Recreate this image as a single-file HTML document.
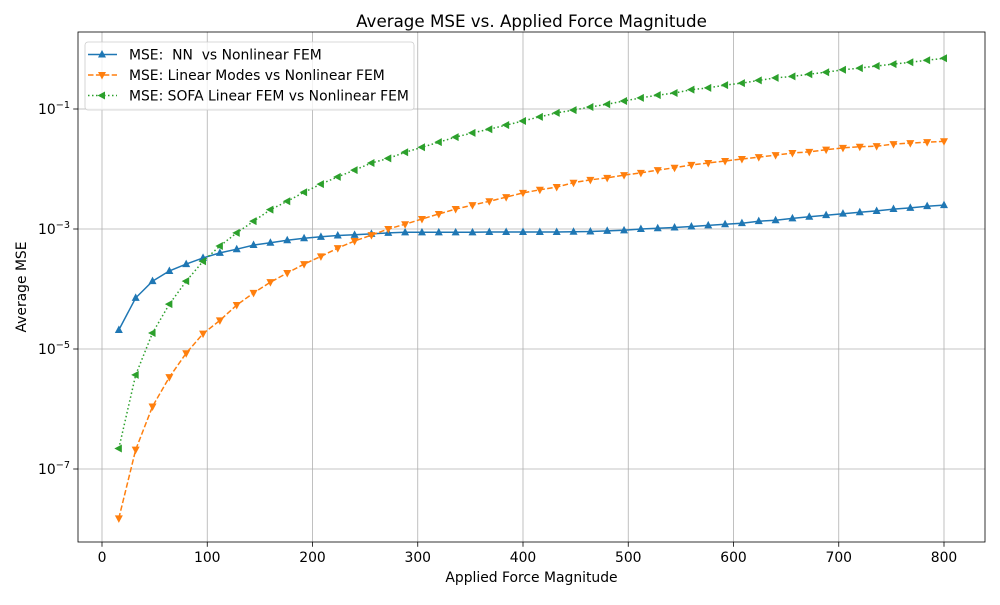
<!DOCTYPE html>
<html><head><meta charset="utf-8"><style>
body{margin:0;background:#fff;font-family:"Liberation Sans","DejaVu Sans",sans-serif}
svg text{font-family:"DejaVu Sans","Liberation Sans",sans-serif}
</style></head><body>
<svg id="c" width="1000" height="600" xmlns="http://www.w3.org/2000/svg"></svg>
<script>
const forces = [16,32,48,64,80,96,112,128,144,160,176,192,208,224,240,256,272,288,304,320,336,352,368,384,400,416,432,448,464,480,496,512,528,544,560,576,592,608,624,640,656,672,688,704,720,736,752,768,784,800];
const nnMSE = [2.07e-5,7.1e-5,1.35e-4,2e-4,2.6e-4,3.3e-4,4e-4,4.6e-4,5.4e-4,5.9e-4,6.5e-4,7e-4,7.4e-4,7.8e-4,8e-4,8.3e-4,8.6e-4,8.8e-4,8.8e-4,8.8e-4,8.8e-4,8.8e-4,8.9e-4,8.9e-4,8.9e-4,8.9e-4,8.9e-4,9e-4,9.1e-4,9.3e-4,9.5e-4,1e-3,1.03e-3,1.06e-3,1.1e-3,1.15e-3,1.2e-3,1.25e-3,1.35e-3,1.4e-3,1.5e-3,1.6e-3,1.7e-3,1.8e-3,1.9e-3,2e-3,2.15e-3,2.25e-3,2.4e-3,2.5e-3];
const linMSE = [1.5e-8,2.1e-7,1.1e-6,3.4e-6,8.5e-6,1.8e-5,3e-5,5.4e-5,8.6e-5,1.3e-4,1.85e-4,2.6e-4,3.5e-4,4.8e-4,6.3e-4,7.9e-4,1e-3,1.2e-3,1.47e-3,1.78e-3,2.15e-3,2.5e-3,2.9e-3,3.4e-3,4e-3,4.5e-3,5e-3,5.9e-3,6.6e-3,7.1e-3,7.9e-3,8.6e-3,9.6e-3,1.05e-2,1.17e-2,1.26e-2,1.36e-2,1.47e-2,1.58e-2,1.7e-2,1.85e-2,1.93e-2,2.1e-2,2.25e-2,2.35e-2,2.4e-2,2.6e-2,2.7e-2,2.8e-2,2.9e-2];
const sofaMSE = [2.2e-7,3.7e-6,1.85e-5,5.6e-5,1.35e-4,2.9e-4,5.2e-4,8.6e-4,1.35e-3,2.1e-3,2.9e-3,4.1e-3,5.6e-3,7.4e-3,9.6e-3,1.26e-2,1.5e-2,1.9e-2,2.3e-2,2.8e-2,3.4e-2,4e-2,4.6e-2,5.4e-2,6.3e-2,7.4e-2,8.6e-2,9.6e-2,0.108,0.12,0.136,0.153,0.17,0.185,0.21,0.225,0.25,0.27,0.3,0.33,0.35,0.38,0.41,0.45,0.48,0.52,0.56,0.6,0.65,0.7];
const xTicks = [0,100,200,300,400,500,600,700,800];
const yTickExps = [-7,-5,-3,-1];

const svg = document.getElementById('c');
const NS = 'http://www.w3.org/2000/svg';
function mk(tag, attrs, parent){const e=document.createElementNS(NS,tag);for(const k in attrs)e.setAttribute(k,attrs[k]);(parent||svg).appendChild(e);return e;}
const L=78,R=985,T=32,B=542;
const xs = v => 102 + v*842/800;
const ys = v => 49 - 60*Math.log10(v);

mk('rect',{x:0,y:0,width:1000,height:600,fill:'#fff'});
const grid = mk('g',{});


xTicks.forEach(t=>{mk('line',{x1:xs(t),x2:xs(t),y1:T,y2:B,stroke:'#b0b0b0','stroke-width':0.8},grid);});
yTickExps.forEach(e=>{mk('line',{x1:L,x2:R,y1:ys(Math.pow(10,e)),y2:ys(Math.pow(10,e)),stroke:'#b0b0b0','stroke-width':0.8},grid);});

const xa = mk('g',{});


xTicks.forEach(t=>{
  mk('line',{x1:xs(t),x2:xs(t),y1:B,y2:B+4.8,stroke:'#000','stroke-width':0.8},xa);
  const tx=mk('text',{x:xs(t),y:B+20,'font-size':13.9,'text-anchor':'middle',fill:'#000'},xa);tx.textContent=t;
});
const ya = mk('g',{});


yTickExps.forEach(e=>{
  const y=ys(Math.pow(10,e));
  mk('line',{x1:L-4.8,x2:L,y1:y,y2:y,stroke:'#000','stroke-width':0.8},ya);
  const tx=mk('text',{x:L-8,y:y+5,'font-size':13.9,'text-anchor':'end',fill:'#000'},ya);
  tx.textContent='10';
  const s=mk('tspan',{dy:-6,'font-size':9.7},tx);s.textContent='\u2212'+Math.abs(e);
});

function series(name,data,color,dash,marker){
  const g=mk('g',{});
  
  
  const pts=forces.map((f,i)=>xs(f).toFixed(1)+','+ys(data[i]).toFixed(1)).join(' ');
  const a={points:pts,fill:'none',stroke:color,'stroke-width':1.5};
  if(dash)a['stroke-dasharray']=dash;
  mk('polyline',a,g);
  forces.forEach((f,i)=>{
    const x=xs(f),y=ys(data[i]);let p;
    if(marker==='up')p=`${x},${y-4.5} ${x-4},${y+3} ${x+4},${y+3}`;
    else if(marker==='down')p=`${x},${y+4.5} ${x-4},${y-3} ${x+4},${y-3}`;
    else p=`${x-4.5},${y} ${x+3},${y-4} ${x+3},${y+4}`;
    const m=mk('polygon',{points:p,fill:color},g);
    
    
  });
}
series('nn-series',nnMSE,'#1f77b4',null,'up');
series('linear-modes-series',linMSE,'#ff7f0e','5.5,2.4','down');
series('sofa-series',sofaMSE,'#2ca02c','1.5,2.5','left');

const frame=mk('rect',{x:L,y:T,width:R-L,height:B-T,fill:'none',stroke:'#000','stroke-width':0.8});



const title=mk('text',{x:(L+R)/2,y:27,'font-size':16.7,'text-anchor':'middle',fill:'#000'});
title.textContent='Average MSE vs. Applied Force Magnitude';


const xt=mk('text',{x:(L+R)/2,y:582,'font-size':13.9,'text-anchor':'middle',fill:'#000'});
xt.textContent='Applied Force Magnitude';


const yt=mk('text',{x:0,y:0,'font-size':13.9,'text-anchor':'middle',fill:'#000',transform:`translate(26,${(T+B)/2}) rotate(-90)`});
yt.textContent='Average MSE';



const lg=mk('g',{});


mk('rect',{x:85,y:42,width:329,height:68,rx:3,fill:'#fff','fill-opacity':0.8,stroke:'#ccc','stroke-width':0.8},lg);
const entries=[['MSE:  NN  vs Nonlinear FEM','#1f77b4',null,'up'],['MSE: Linear Modes vs Nonlinear FEM','#ff7f0e','5.5,2.4','down'],['MSE: SOFA Linear FEM vs Nonlinear FEM','#2ca02c','1.5,2.5','left']];
entries.forEach((en,i)=>{
  const y=54.5+i*20.5;
  const g=mk('g',{},lg);
  
  
  const a={x1:88,x2:117,y1:y,y2:y,stroke:en[1],'stroke-width':1.5};
  if(en[2])a['stroke-dasharray']=en[2];
  mk('line',a,g);
  const x=102;let p;
  if(en[3]==='up')p=`${x},${y-4.5} ${x-4},${y+3} ${x+4},${y+3}`;
  else if(en[3]==='down')p=`${x},${y+4.5} ${x-4},${y-3} ${x+4},${y-3}`;
  else p=`${x-4.5},${y} ${x+3},${y-4} ${x+3},${y+4}`;
  mk('polygon',{points:p,fill:en[1]},g);
  const t=mk('text',{x:129,y:y+5,'font-size':13.9,fill:'#000'},g);
  t.setAttribute('style','white-space:pre');
  t.textContent=en[0];
});
</script>
</body></html>
